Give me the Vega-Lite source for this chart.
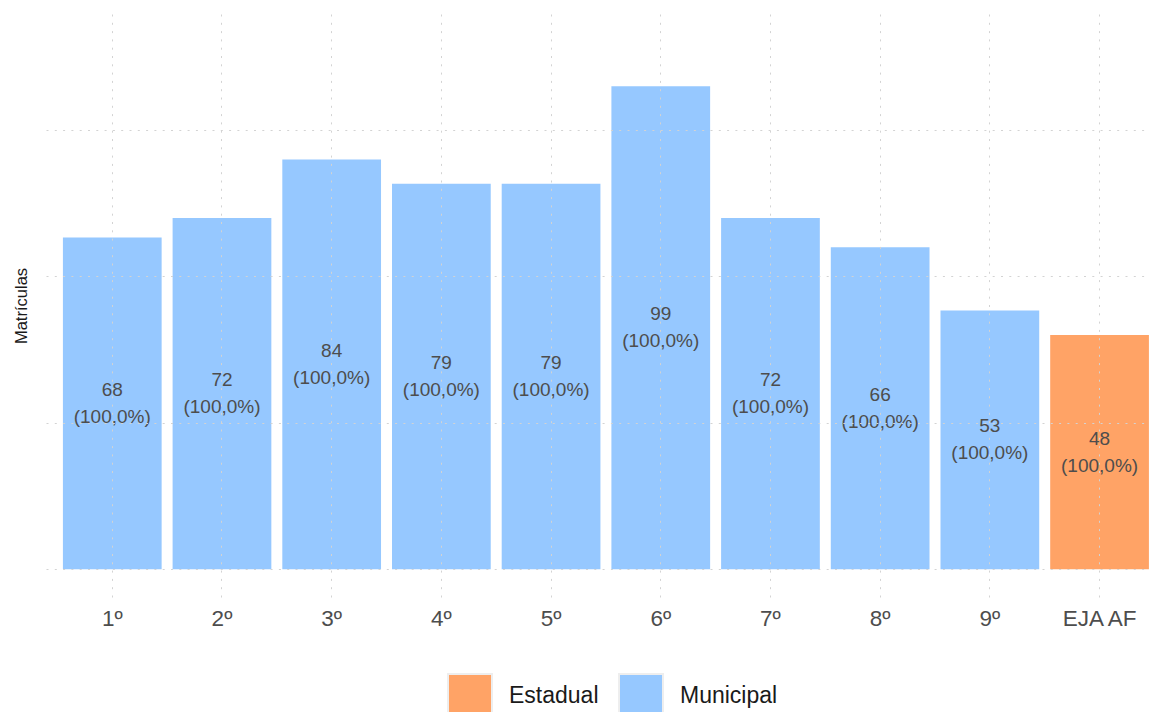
{
  "$schema": "https://vega.github.io/schema/vega-lite/v6.json",
  "width": 1104,
  "height": 583,
  "autosize": {"type": "none"},
  "padding": {"left": 46, "top": 14, "right": 0, "bottom": 115},
  "background": "white",
  "config": {"view": {"stroke": null}, "font": "Liberation Sans"},
  "data": {
    "values": [
      {"serie": "1º", "rede": "Municipal", "matriculas": 68, "pct": "100,0%"},
      {"serie": "2º", "rede": "Municipal", "matriculas": 72, "pct": "100,0%"},
      {"serie": "3º", "rede": "Municipal", "matriculas": 84, "pct": "100,0%"},
      {"serie": "4º", "rede": "Municipal", "matriculas": 79, "pct": "100,0%"},
      {"serie": "5º", "rede": "Municipal", "matriculas": 79, "pct": "100,0%"},
      {"serie": "6º", "rede": "Municipal", "matriculas": 99, "pct": "100,0%"},
      {"serie": "7º", "rede": "Municipal", "matriculas": 72, "pct": "100,0%"},
      {"serie": "8º", "rede": "Municipal", "matriculas": 66, "pct": "100,0%"},
      {"serie": "9º", "rede": "Municipal", "matriculas": 53, "pct": "100,0%"},
      {"serie": "EJA AF", "rede": "Estadual", "matriculas": 48, "pct": "100,0%"}
    ]
  },
  "transform": [
    {"calculate": "datum.matriculas / 2", "as": "meio"},
    {"calculate": "datum.matriculas + '\\n(' + datum.pct + ')'", "as": "rotulo"}
  ],
  "layer": [
    {
      "mark": {"type": "bar", "stroke": null},
      "encoding": {
        "x": {
          "field": "serie", "type": "nominal", "sort": null,
          "scale": {"paddingInner": 0.1, "paddingOuter": 0.082, "align": 0.94},
          "axis": {
            "title": null, "domain": false, "ticks": false, "labelAngle": 0,
            "labelFontSize": 22.5, "labelColor": "#4d4d4d", "labelPadding": 10,
            "grid": true, "gridDash": [2, 6.3], "gridColor": "#d3d3d3", "gridWidth": 1,
            "bandPosition": 0.5, "zindex": 1
          }
        },
        "y": {
          "field": "matriculas", "type": "quantitative",
          "title": "Matrículas",
          "scale": {"domain": [-5.7, 113.8], "nice": false, "zero": false},
          "axis": {
            "labels": false, "ticks": false, "domain": false,
            "values": [0, 30, 60, 90],
            "titleFontSize": 16.5, "titleFontWeight": "normal", "titleColor": "#1a1a1a", "titlePadding": 17,
            "grid": true, "gridDash": [2, 6.3], "gridColor": "#d3d3d3", "gridWidth": 1, "zindex": 1
          }
        },
        "y2": {"datum": 0},
        "color": {
          "field": "rede", "type": "nominal",
          "scale": {"domain": ["Estadual", "Municipal"], "range": ["#FFA366", "#96C8FF"]},
          "legend": {
            "title": null, "orient": "none", "legendX": 401, "legendY": 659,
            "direction": "horizontal", "symbolType": "square", "symbolSize": 1936,
            "symbolStrokeColor": "#eeeeee", "symbolStrokeWidth": 2, "symbolOpacity": 1,
            "labelFontSize": 23, "labelColor": "#1a1a1a", "labelOffset": 16,
            "columnPadding": 16, "padding": 0
          }
        }
      }
    },
    {
      "mark": {"type": "text", "fontSize": 19, "lineHeight": 27, "dy": -13.5, "color": "#4d4d4d", "baseline": "middle", "align": "center", "lineBreak": "\n"},
      "encoding": {
        "x": {"field": "serie", "type": "nominal", "sort": null},
        "y": {"field": "meio", "type": "quantitative", "title": "Matrículas"},
        "text": {"field": "rotulo", "type": "nominal"}
      }
    }
  ]
}
